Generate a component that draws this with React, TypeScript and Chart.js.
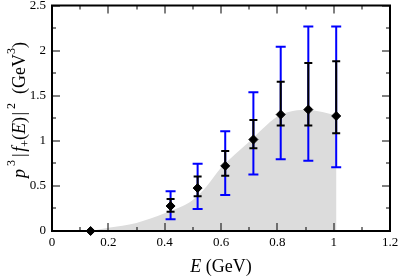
import React, { useEffect, useRef } from "react";
import { Chart, registerables } from "chart.js";

Chart.register(...registerables);

// ---- data ----
const energies = [0.137, 0.421, 0.517, 0.615, 0.715, 0.812, 0.91, 1.009];
const values = [0, 0.277, 0.476, 0.722, 1.014, 1.291, 1.346, 1.275];
const statLow = [0, 0.213, 0.384, 0.612, 0.918, 1.169, 1.169, 1.084];
const statHigh = [0, 0.354, 0.605, 0.888, 1.231, 1.656, 1.862, 1.881];
const totLow = [0, 0.13, 0.243, 0.398, 0.627, 0.796, 0.778, 0.708];
const totHigh = [0, 0.441, 0.745, 1.106, 1.538, 2.043, 2.268, 2.268];

const bandX = [0.14, 0.2, 0.3, 0.4, 0.5, 0.55, 0.6, 0.7, 0.8, 0.84, 0.9, 0.96, 1.01];
const bandY = [0, 0.035, 0.09, 0.196, 0.345, 0.5, 0.7, 0.99, 1.27, 1.32, 1.345, 1.32, 1.28];

const xTicks = [0, 0.2, 0.4, 0.6, 0.8, 1.0, 1.2];
const xTickLabels = ["0", "0.2", "0.4", "0.6", "0.8", "1", "1.2"];
const yTicks = [0, 0.5, 1, 1.5, 2, 2.5];
const yTickLabels = ["0", "0.5", "1", "1.5", "2", "2.5"];
const xMinor = [0.1, 0.3, 0.5, 0.7, 0.9, 1.1];
const yMinor = [0.25, 0.75, 1.25, 1.75, 2.25];

const SERIF = "'Liberation Serif', 'Times New Roman', serif";

const decorPlugin = {
  id: "decor",
  beforeDatasetDraw(chart: any, args: any) {
    if (args.index !== 1) return;
    const ctx = chart.ctx;
    const xs = chart.scales.x;
    const ys = chart.scales.y;
    ctx.save();
    for (let i = 0; i < energies.length; i++) {
      const px = xs.getPixelForValue(energies[i]);
      if (totHigh[i] > totLow[i]) {
        const a = ys.getPixelForValue(totHigh[i]);
        const b = ys.getPixelForValue(totLow[i]);
        ctx.strokeStyle = "#0000ff";
        ctx.lineWidth = 2;
        ctx.beginPath();
        ctx.moveTo(px, a);
        ctx.lineTo(px, b);
        ctx.moveTo(px - 5, a);
        ctx.lineTo(px + 5, a);
        ctx.moveTo(px - 5, b);
        ctx.lineTo(px + 5, b);
        ctx.stroke();
      }
      if (statHigh[i] > statLow[i]) {
        const a = ys.getPixelForValue(statHigh[i]);
        const b = ys.getPixelForValue(statLow[i]);
        ctx.strokeStyle = "#000000";
        ctx.lineWidth = 2;
        ctx.beginPath();
        ctx.moveTo(px, a);
        ctx.lineTo(px, b);
        ctx.moveTo(px - 4, a);
        ctx.lineTo(px + 4, a);
        ctx.moveTo(px - 4, b);
        ctx.lineTo(px + 4, b);
        ctx.stroke();
      }
    }
    ctx.restore();
  },
  afterDraw(chart: any) {
    const ctx = chart.ctx;
    const { left, right, top, bottom } = chart.chartArea;
    const xs = chart.scales.x;
    const ys = chart.scales.y;
    ctx.save();
    // ticks (inward, all four sides)
    ctx.strokeStyle = "#000";
    ctx.lineWidth = 1;
    ctx.beginPath();
    const major = 8;
    const minor = 4;
    const xt = (v: number, len: number) => {
      const p = Math.round(xs.getPixelForValue(v));
      ctx.moveTo(p, bottom);
      ctx.lineTo(p, bottom - len);
      ctx.moveTo(p, top);
      ctx.lineTo(p, top + len);
    };
    const yt = (v: number, len: number) => {
      const p = Math.round(ys.getPixelForValue(v));
      ctx.moveTo(left, p);
      ctx.lineTo(left + len, p);
      ctx.moveTo(right, p);
      ctx.lineTo(right - len, p);
    };
    xTicks.forEach((v) => xt(v, major));
    xMinor.forEach((v) => xt(v, minor));
    yTicks.forEach((v) => yt(v, major));
    yMinor.forEach((v) => yt(v, minor));
    ctx.stroke();
    // frame
    ctx.lineWidth = 2;
    ctx.strokeRect(left, top, right - left, bottom - top);

    // axis titles
    ctx.fillStyle = "#000";
    ctx.textBaseline = "alphabetic";
    type Seg = [string, string, number];
    const drawSegs = (segs: Seg[], cx: number, cy: number, rot: number) => {
      ctx.save();
      ctx.translate(cx, cy);
      ctx.rotate(rot);
      let total = 0;
      segs.forEach(([t, f]) => {
        ctx.font = f;
        total += ctx.measureText(t).width;
      });
      let x = -total / 2;
      segs.forEach(([t, f, dy]) => {
        ctx.font = f;
        ctx.fillText(t, x, dy);
        x += ctx.measureText(t).width;
      });
      ctx.restore();
    };
    const N = `18px ${SERIF}`;
    const I = `italic 18px ${SERIF}`;
    const S = `12px ${SERIF}`;
    const T = `6px ${SERIF}`;
    drawSegs(
      [
        ["E", I, 0],
        [" (GeV)", N, 0],
      ],
      (left + right) / 2,
      272,
      0
    );
    drawSegs(
      [
        ["p", I, 0],
        [" ", S, 0],
        ["3", S, -10],
        [" ", S, 0],
        ["|", N, 0],
        [" ", T, 0],
        ["f", I, 0],
        ["+", S, 4],
        ["(", N, 0],
        ["E", I, 0],
        [")", N, 0],
        [" ", T, 0],
        ["|", N, 0],
        [" ", S, 0],
        ["2", S, -10],
        ["   ", S, 0],
        ["(GeV", N, 0],
        ["3", S, -10],
        [")", N, 0],
      ],
      25,
      110,
      -Math.PI / 2
    );
    ctx.restore();
  },
};

export default function App() {
  const ref = useRef<HTMLCanvasElement | null>(null);
  useEffect(() => {
    if (!ref.current) return;
    const chart = new Chart(ref.current, {
      type: "line",
      data: {
        datasets: [
          {
            data: bandX.map((x, i) => ({ x, y: bandY[i] })),
            fill: "origin",
            backgroundColor: "#dcdcdc",
            borderWidth: 0,
            borderColor: "rgba(0,0,0,0)",
            pointRadius: 0,
            cubicInterpolationMode: "monotone",
            order: 2,
          } as any,
          {
            data: energies.map((x, i) => ({ x, y: values[i] })),
            showLine: false,
            pointStyle: "rectRot",
            pointRadius: 4.5,
            backgroundColor: "#000",
            borderColor: "#000",
            borderWidth: 1,
            clip: false,
            order: 1,
          } as any,
        ],
      },
      options: {
        animation: false,
        responsive: false,
        layout: { padding: { top: 5, right: 9, left: 0, bottom: 0 } },
        plugins: { legend: { display: false }, tooltip: { enabled: false } },
        scales: {
          x: {
            type: "linear",
            min: 0,
            max: 1.2,
            afterBuildTicks: (s: any) => {
              s.ticks = xTicks.map((v) => ({ value: v }));
            },
            afterFit: (s: any) => {
              s.height = 46;
              s.paddingLeft = 0;
              s.paddingRight = 0;
            },
            grid: { display: false, drawTicks: false },
            border: { display: false },
            ticks: {
              padding: 4,
              maxRotation: 0,
              autoSkip: false,
              color: "#000",
              font: { family: SERIF, size: 13 },
              callback: (_v: any, i: number) => xTickLabels[i],
            },
          },
          y: {
            type: "linear",
            min: 0,
            max: 2.5,
            afterBuildTicks: (s: any) => {
              s.ticks = yTicks.map((v) => ({ value: v }));
            },
            afterFit: (s: any) => {
              s.width = 52;
              s.paddingTop = 0;
              s.paddingBottom = 0;
            },
            grid: { display: false, drawTicks: false },
            border: { display: false },
            ticks: {
              padding: 6,
              autoSkip: false,
              color: "#000",
              font: { family: SERIF, size: 13 },
              callback: (_v: any, i: number) => yTickLabels[i],
            },
          },
        },
      },
      plugins: [decorPlugin],
    });
    return () => chart.destroy();
  }, []);
  return (
    <div style={{ position: "fixed", left: 0, top: 0, width: 399, height: 277, background: "#fff" }}>
      <canvas ref={ref} width={399} height={277} style={{ width: 399, height: 277 }} />
    </div>
  );
}
